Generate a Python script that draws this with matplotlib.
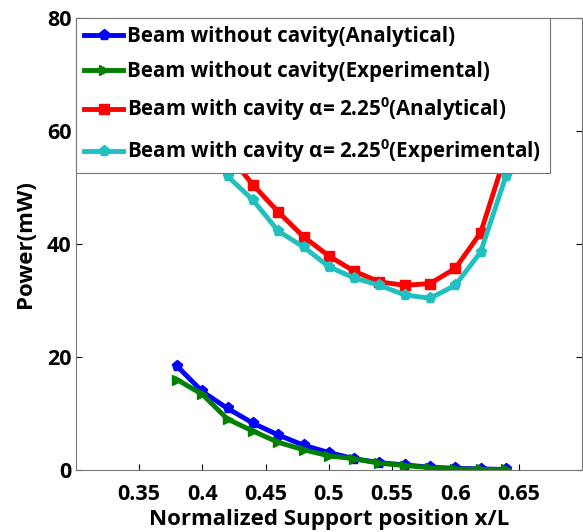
import numpy as np
import matplotlib
matplotlib.use("Agg")
import matplotlib.pyplot as plt

plt.rcParams['font.family'] = ['Open Sans', 'DejaVu Sans']
plt.rcParams['font.weight'] = 'bold'
plt.rcParams['mathtext.fontset'] = 'custom'
plt.rcParams['mathtext.bf'] = 'Open Sans:bold'
plt.rcParams['mathtext.rm'] = 'Open Sans:bold'

# support positions
x_plain = [0.38, 0.40, 0.42, 0.44, 0.46, 0.48, 0.50, 0.52, 0.54, 0.56, 0.58, 0.60, 0.62, 0.64]
x_cavity = [0.42, 0.44, 0.46, 0.48, 0.50, 0.52, 0.54, 0.56, 0.58, 0.60, 0.62, 0.64]

# power (mW)
plain_analytical = [18.4, 13.9, 10.9, 8.3, 6.2, 4.4, 3.1, 2.0, 1.3, 0.9, 0.5, 0.3, 0.2, 0.1]
plain_experimental = [16.0, 13.4, 9.0, 6.9, 4.9, 3.6, 2.5, 2.0, 1.2, 0.8, 0.4, 0.2, 0.1, 0.1]
cavity_analytical = [56.0, 50.5, 45.7, 41.3, 37.9, 35.2, 33.3, 32.7, 33.0, 35.7, 42.0, 56.0]
cavity_experimental = [52.0, 47.8, 42.3, 39.5, 36.0, 34.0, 32.7, 31.0, 30.4, 32.7, 38.6, 52.0]

fig = plt.figure(figsize=(5.83, 5.32), dpi=100)
ax = fig.add_axes([0.130, 0.1165, 0.868, 0.8495])

lw = 3.5
ax.plot(x_plain, plain_analytical, '-p', color='#0000ff', lw=lw, ms=8,
        label='Beam without cavity(Analytical)')
ax.plot(x_plain, plain_experimental, '->', color='#008000', lw=lw, ms=7,
        label='Beam without cavity(Experimental)')
ax.plot(x_cavity, cavity_analytical, '-s', color='#ff0000', lw=lw, ms=7,
        label='Beam with cavity α= 2.25$^{0}$(Analytical)')
ax.plot(x_cavity, cavity_experimental, '-p', color='#20c0c0', lw=lw, ms=8,
        label='Beam with cavity α= 2.25$^{0}$(Experimental)')

ax.set_xlim(0.3, 0.7)
ax.set_ylim(0, 80)
ax.set_xticks([0.35, 0.4, 0.45, 0.5, 0.55, 0.6, 0.65])
ax.set_xticklabels(['0.35', '0.4', '0.45', '0.5', '0.55', '0.6', '0.65'])
ax.set_yticks([0, 20, 40, 60, 80])
ax.tick_params(direction='in', length=4, labelsize=15.5, width=0.8, top=True, right=True, pad=3)
ax.tick_params(axis='x', pad=10)
for s in ax.spines.values():
    s.set_color('#777777')

ax.set_xlabel('Normalized Support position x/L', fontsize=16, fontweight='bold', labelpad=3)
ax.set_ylabel('Power(mW)', fontsize=16, fontweight='bold', labelpad=8)

leg = ax.legend(loc='upper left', fontsize=14.8, handlelength=1.9, handletextpad=0.2,
                borderaxespad=0, borderpad=0.4, labelspacing=0.66, fancybox=False,
                framealpha=1)
leg.get_frame().set_edgecolor('#777777')
leg.get_frame().set_linewidth(0.8)

fig.savefig('out.png', dpi=100)
